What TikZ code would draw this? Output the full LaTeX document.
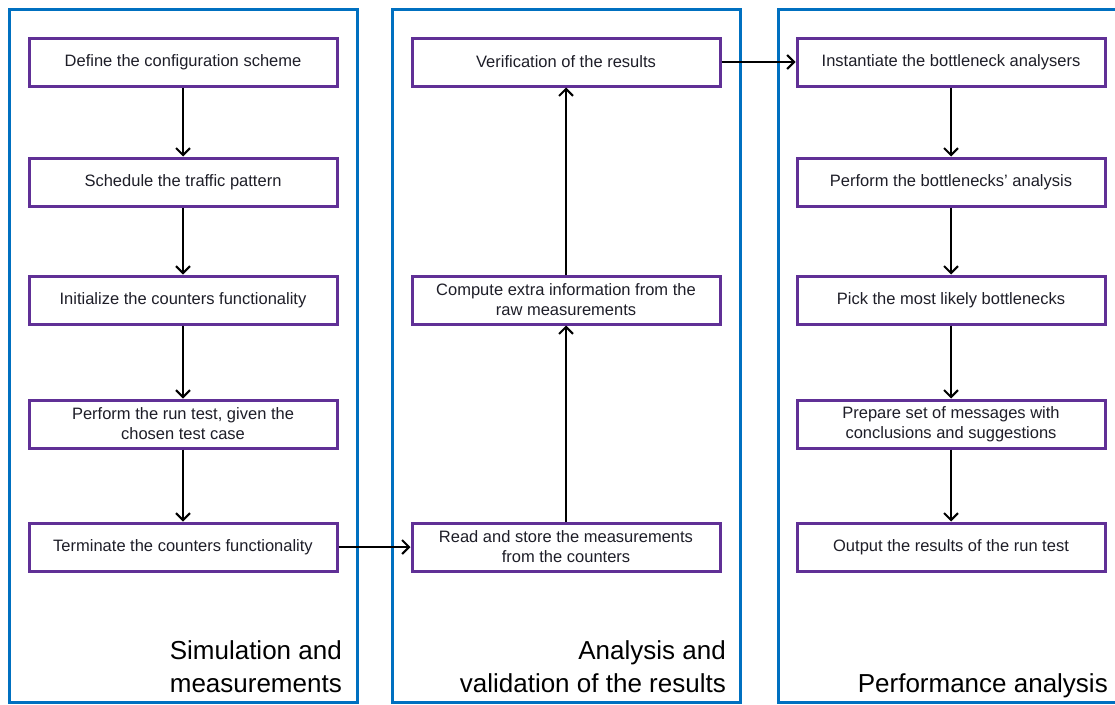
\documentclass[tikz,border=0pt]{standalone}
\usepackage{fontspec}
\setmainfont{Liberation Sans}
\usetikzlibrary{arrows.meta}
\definecolor{panelblue}{RGB}{0,112,192}
\definecolor{boxpurple}{RGB}{96,48,150}
\definecolor{ink}{RGB}{30,30,40}
\begin{document}
\begin{tikzpicture}[x=1pt,y=-1pt,
  panel/.style={draw=panelblue,line width=3pt},
  stepbox/.style={draw=boxpurple,line width=3pt,fill=white,minimum width=308pt,minimum height=48pt,
    inner sep=2pt,align=center,text=ink,font=\fontsize{16.5}{20}\selectfont},
  title/.style={anchor=north east,inner sep=0pt,align=right,text=black,font=\fontsize{26}{33}\selectfont},
  flow/.style={line width=2pt,-{Straight Barb[length=7pt,width=14pt,line width=2pt]}}]
\useasboundingbox (0,0) rectangle (1115,704);
% three column frames (the right one runs past the page edge)
\draw[panel] (9,9) rectangle (357,702);
\draw[panel] (392,9) rectangle (740,702);
\draw[panel] (1125,702) -- (778,702) -- (778,9) -- (1125,9);
% column headings
\node[title] (t1) at (342,640) {Simulation and\\measurements};
\node[title] (t2) at (726,640) {Analysis and\\validation of the results};
\node[title] (t3) at (1108,673) {Performance analysis};
% left column
\node[stepbox] (a1) at (183,62) {Define the configuration scheme};
\node[stepbox] (a2) at (183,182) {Schedule the traffic pattern};
\node[stepbox] (a3) at (183,300) {Initialize the counters functionality};
\node[stepbox] (a4) at (183,424) {Perform the run test, given the\\chosen test case};
\node[stepbox] (a5) at (183,547) {Terminate the counters functionality};
% middle column
\node[stepbox] (b1) at (566,62) {Verification of the results};
\node[stepbox] (b2) at (566,300) {Compute extra information from the\\raw measurements};
\node[stepbox] (b3) at (566,547) {Read and store the measurements\\from the counters};
% right column
\node[stepbox] (c1) at (951,62) {Instantiate the bottleneck analysers};
\node[stepbox] (c2) at (951,182) {Perform the bottlenecks’ analysis};
\node[stepbox] (c3) at (951,300) {Pick the most likely bottlenecks};
\node[stepbox] (c4) at (951,424) {Prepare set of messages with\\conclusions and suggestions};
\node[stepbox] (c5) at (951,547) {Output the results of the run test};
% connectors
\draw[flow] (a1) -- (a2);
\draw[flow] (a2) -- (a3);
\draw[flow] (a3) -- (a4);
\draw[flow] (a4) -- (a5);
\draw[flow] (a5) -- (b3);
\draw[flow] (b3) -- (b2);
\draw[flow] (b2) -- (b1);
\draw[flow] (b1) -- (c1);
\draw[flow] (c1) -- (c2);
\draw[flow] (c2) -- (c3);
\draw[flow] (c3) -- (c4);
\draw[flow] (c4) -- (c5);
\end{tikzpicture}
\end{document}
